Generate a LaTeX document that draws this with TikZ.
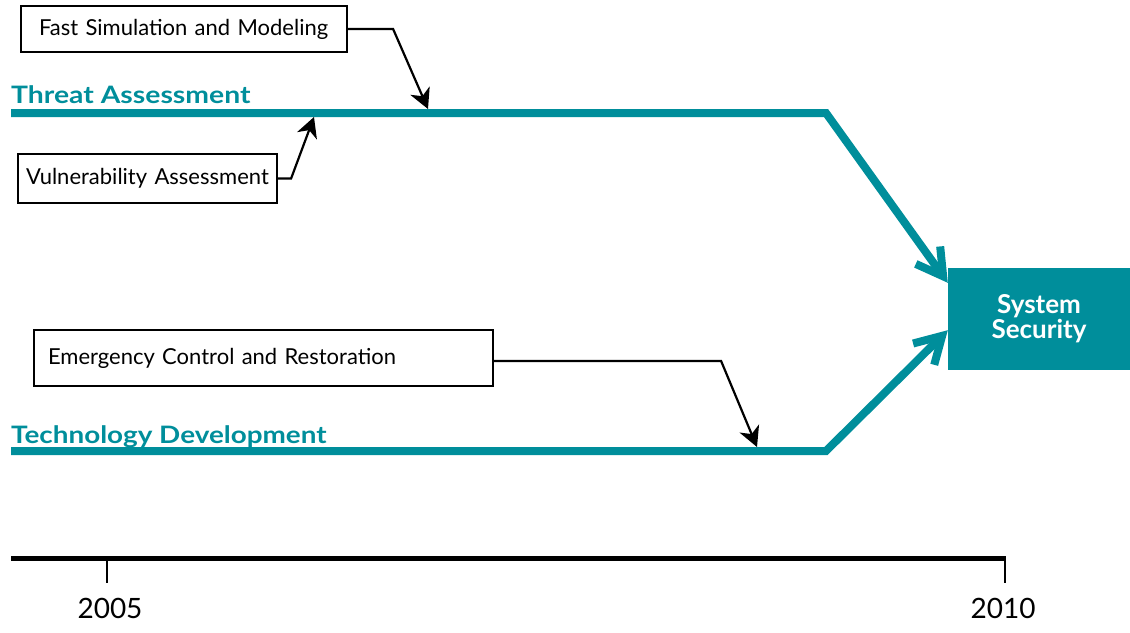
\documentclass[tikz,border=0pt]{standalone}
\usepackage{fontspec}
\setmainfont{Lato}
\usetikzlibrary{arrows.meta,calc}
\definecolor{roadteal}{RGB}{0,142,155}

\begin{document}
\begin{tikzpicture}[x=1pt,y=-1pt,
  textbox/.style={draw=black, line width=2.2pt, fill=white, align=left,
    inner ysep=0pt, font=\fontsize{22}{26}\selectfont},
  track/.style={draw=roadteal, line width=8pt, line join=miter,
    -{Straight Barb[length=26pt,width=30pt]}},
  tracklabel/.style={anchor=base west, inner sep=0pt, text=roadteal,
    font=\fontsize{24}{26}\selectfont\bfseries},
  pointer/.style={draw=black, line width=2.2pt, line join=miter,
    -{Stealth[length=20pt,width=21pt,inset=6pt]}},
  yearlabel/.style={font=\fontsize{28}{30}\selectfont, inner sep=0pt}
]
\useasboundingbox (0,0) rectangle (1130,632);

% goal box
\node[fill=roadteal, minimum width=182pt, minimum height=102pt, inner sep=0pt,
  text=white, align=center, font=\fontsize{26}{25}\selectfont\bfseries]
  (sys) at (1039,319) {System\\Security};

% the two tracks
\node[tracklabel] (threat) at (11,103) {\scalebox{1.18}[1]{Threat Assessment}};
\node[tracklabel] (tech) at (11,443) {\scalebox{1.16}[1]{Technology Development}};

\coordinate (tA) at (11,113);
\coordinate (tB) at (826,113);
\coordinate (dA) at (11,451);
\coordinate (dB) at (826,451);
\draw[track] (tA) -- (tB) -- ($(sys.north west)+(0,15)$);
\draw[track] (dA) -- (dB) -- ($(sys.south west)+(0,-40)$);

% contributing programs
\node[textbox, inner xsep=18pt, text width=290pt, minimum height=46pt]
  (fast) at (184,29) {\mbox{Fast Simulation and Modeling}};
\node[textbox, inner xsep=8pt, text width=243pt, minimum height=49pt]
  (vuln) at (147.5,178.5) {\mbox{Vulnerability Assessment}};
\node[textbox, inner xsep=14pt, text width=431pt, minimum height=56pt]
  (emer) at (263.5,358) {\mbox{Emergency Control and Restoration}};

\coordinate (fastTip) at (428,109);
\coordinate (vulnTip) at (314,117);
\coordinate (emerTip) at (757,447);
\draw[pointer] (fast.east) -- ++(45,0) -- (fastTip);
\draw[pointer] (vuln.east) -- ++(13,0) -- (vulnTip);
\draw[pointer] ($(emer.east)+(0,3)$) -- ++(227,0) -- (emerTip);

% time axis
\coordinate (axL) at (11,558);
\coordinate (axR) at (1006,558);
\draw[line width=5pt] (axL) -- (axR);
\coordinate (t05) at (107,558);
\coordinate (t10) at (1005,558);
\draw[line width=2pt] (t05) -- ++(0,25);
\draw[line width=2pt] (t10) -- ++(0,25);
\node[yearlabel] (y05) at (110,608) {2005};
\node[yearlabel] (y10) at (1003,608) {2010};
\end{tikzpicture}
\end{document}
